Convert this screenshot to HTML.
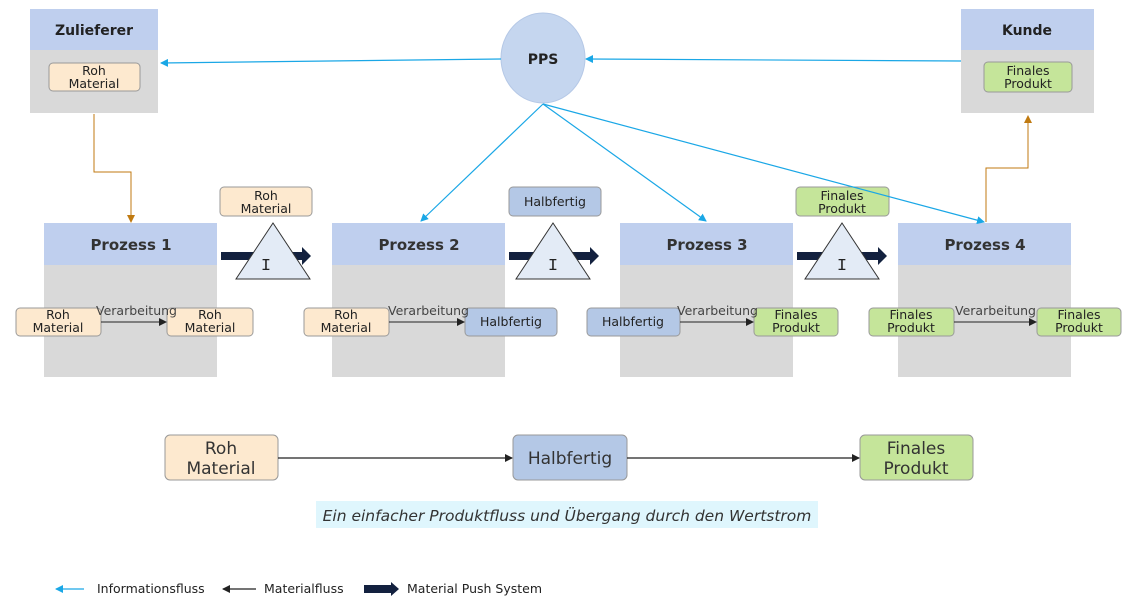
<!DOCTYPE html>
<html><head><meta charset="utf-8"><style>
body{margin:0;background:#fff}
svg text{font-family:"DejaVu Sans","Liberation Sans",sans-serif}
</style></head><body>
<svg width="1136" height="605" viewBox="0 0 1136 605" xmlns="http://www.w3.org/2000/svg">
<defs>
<marker id="ib" markerWidth="8" markerHeight="8" refX="7" refY="4" orient="auto" markerUnits="userSpaceOnUse"><path d="M0,0 L8,4 L0,8z" fill="#1aa7e6"/></marker>
<marker id="ob" markerWidth="8" markerHeight="8" refX="7" refY="4" orient="auto" markerUnits="userSpaceOnUse"><path d="M0,0 L8,4 L0,8z" fill="#c07a10"/></marker>
<marker id="db" markerWidth="8" markerHeight="8" refX="7" refY="4" orient="auto" markerUnits="userSpaceOnUse"><path d="M0,0 L8,4 L0,8z" fill="#222"/></marker>
</defs>
<rect x="30" y="9" width="128" height="104" fill="#d9d9d9"/><rect x="30" y="9" width="128" height="41" fill="#bfcfee"/>
<text x="94" y="35" font-size="14" font-weight="bold" text-anchor="middle" fill="#222">Zulieferer</text>
<rect x="961" y="9" width="133" height="104" fill="#d9d9d9"/><rect x="961" y="9" width="133" height="41" fill="#bfcfee"/>
<text x="1027" y="35" font-size="14" font-weight="bold" text-anchor="middle" fill="#222">Kunde</text>
<ellipse cx="543" cy="58" rx="42" ry="45" fill="#c5d6ef" stroke="#b5c8e6"/>
<text x="543" y="64" font-size="14" font-weight="bold" text-anchor="middle" fill="#222">PPS</text>
<g font-size="12.5" text-anchor="middle" fill="#222">
<rect x="49" y="63" width="91" height="28" rx="4" fill="#fde9cf" stroke="#999"/><text x="94" y="75">Roh</text><text x="94" y="88">Material</text>
<rect x="984" y="62" width="88" height="30" rx="4" fill="#c5e59a" stroke="#999"/><text x="1028" y="75">Finales</text><text x="1028" y="88">Produkt</text>
</g>
<rect x="44" y="223" width="173" height="154" fill="#d9d9d9"/><rect x="44" y="223" width="173" height="42" fill="#bfcfee"/>
<rect x="332" y="223" width="173" height="154" fill="#d9d9d9"/><rect x="332" y="223" width="173" height="42" fill="#bfcfee"/>
<rect x="620" y="223" width="173" height="154" fill="#d9d9d9"/><rect x="620" y="223" width="173" height="42" fill="#bfcfee"/>
<rect x="898" y="223" width="173" height="154" fill="#d9d9d9"/><rect x="898" y="223" width="173" height="42" fill="#bfcfee"/>
<g font-size="15" font-weight="bold" text-anchor="middle" fill="#333">
<text x="131" y="250">Prozess 1</text><text x="419" y="250">Prozess 2</text><text x="707" y="250">Prozess 3</text><text x="985" y="250">Prozess 4</text>
</g>
<g fill="#13213f">
<path d="M221,252 H302 V247 L311,256 L302,265 V260 H221z"/>
<path d="M509,252 H590 V247 L599,256 L590,265 V260 H509z"/>
<path d="M797,252 H878 V247 L887,256 L878,265 V260 H797z"/>
</g>
<g fill="#e3ebf6" stroke="#333">
<path d="M273,223 L310,279 L236,279z"/><path d="M553,223 L590,279 L516,279z"/><path d="M842,223 L879,279 L805,279z"/>
</g>
<g font-size="17" text-anchor="middle" fill="#222">
<text x="266" y="270" style="font-family:'Liberation Mono',monospace">I</text><text x="553" y="270" style="font-family:'Liberation Mono',monospace">I</text><text x="842" y="270" style="font-family:'Liberation Mono',monospace">I</text>
</g>
<g font-size="12.5" text-anchor="middle" fill="#222">
<rect x="220" y="187" width="92" height="29" rx="4" fill="#fde9cf" stroke="#999"/><text x="266" y="200">Roh</text><text x="266" y="213">Material</text>
<rect x="509" y="187" width="92" height="29" rx="4" fill="#b4c8e6" stroke="#999"/><text x="555" y="206">Halbfertig</text>
<rect x="796" y="187" width="93" height="29" rx="4" fill="#c5e59a" stroke="#999"/><text x="842" y="200">Finales</text><text x="842" y="213">Produkt</text>
<rect x="16" y="308" width="85" height="28" rx="4" fill="#fde9cf" stroke="#999"/><text x="58" y="319">Roh</text><text x="58" y="332">Material</text>
<rect x="167" y="308" width="86" height="28" rx="4" fill="#fde9cf" stroke="#999"/><text x="210" y="319">Roh</text><text x="210" y="332">Material</text>
<rect x="304" y="308" width="85" height="28" rx="4" fill="#fde9cf" stroke="#999"/><text x="346" y="319">Roh</text><text x="346" y="332">Material</text>
<rect x="465" y="308" width="92" height="28" rx="4" fill="#b4c8e6" stroke="#999"/><text x="511" y="326">Halbfertig</text>
<rect x="587" y="308" width="93" height="28" rx="4" fill="#b4c8e6" stroke="#999"/><text x="633" y="326">Halbfertig</text>
<rect x="754" y="308" width="84" height="28" rx="4" fill="#c5e59a" stroke="#999"/><text x="796" y="319">Finales</text><text x="796" y="332">Produkt</text>
<rect x="869" y="308" width="85" height="28" rx="4" fill="#c5e59a" stroke="#999"/><text x="911" y="319">Finales</text><text x="911" y="332">Produkt</text>
<rect x="1037" y="308" width="84" height="28" rx="4" fill="#c5e59a" stroke="#999"/><text x="1079" y="319">Finales</text><text x="1079" y="332">Produkt</text>
</g>
<g stroke="#222" stroke-width="1" marker-end="url(#db)">
<line x1="101" y1="322" x2="166" y2="322"/><line x1="389" y1="322" x2="464" y2="322"/><line x1="680" y1="322" x2="753" y2="322"/><line x1="954" y1="322" x2="1036" y2="322"/>
</g>
<g font-size="12.5" fill="#444">
<text x="96" y="315">Verarbeitung</text><text x="388" y="315">Verarbeitung</text><text x="677" y="315">Verarbeitung</text><text x="955" y="315">Verarbeitung</text>
</g>
<g stroke="#1aa7e6" stroke-width="1.2" fill="none" marker-end="url(#ib)">
<line x1="501" y1="59" x2="161" y2="63"/><line x1="961" y1="61" x2="586" y2="59"/>
<line x1="543" y1="104" x2="421" y2="221"/><line x1="543" y1="104" x2="706" y2="221"/><line x1="543" y1="104" x2="984" y2="222"/>
</g>
<g stroke="#c07a10" stroke-width="1" fill="none" marker-end="url(#ob)">
<polyline points="94,114 94,172 131,172 131,222"/><polyline points="986,222 986,168 1028,168 1028,116"/>
</g>
<g font-size="17" text-anchor="middle" fill="#333">
<rect x="165" y="435" width="113" height="45" rx="5" fill="#fde9cf" stroke="#999"/><text x="221" y="454">Roh</text><text x="221" y="474">Material</text>
<rect x="513" y="435" width="114" height="45" rx="5" fill="#b4c8e6" stroke="#999"/><text x="570" y="464">Halbfertig</text>
<rect x="860" y="435" width="113" height="45" rx="5" fill="#c5e59a" stroke="#999"/><text x="916" y="454">Finales</text><text x="916" y="474">Produkt</text>
</g>
<g stroke="#222" stroke-width="1.2" marker-end="url(#db)">
<line x1="278" y1="458" x2="512" y2="458"/><line x1="627" y1="458" x2="859" y2="458"/>
</g>
<rect x="316" y="501" width="502" height="27" fill="#dff6fd"/>
<text x="567" y="521" font-size="15.5" font-style="italic" text-anchor="middle" fill="#333">Ein einfacher Produktfluss und Übergang durch den Wertstrom</text>
<line x1="84" y1="589" x2="56" y2="589" stroke="#1aa7e6" stroke-width="1.2" marker-end="url(#ib)"/>
<text x="97" y="593" font-size="12.5" fill="#222">Informationsfluss</text>
<line x1="256" y1="589" x2="223" y2="589" stroke="#222" stroke-width="1.2" marker-end="url(#db)"/>
<text x="264" y="593" font-size="12.5" fill="#222">Materialfluss</text>
<path d="M364,585 H391 V582 L399,589 L391,596 V593 H364z" fill="#13213f"/>
<text x="407" y="593" font-size="12.5" fill="#222">Material Push System</text>
</svg>
</body></html>
